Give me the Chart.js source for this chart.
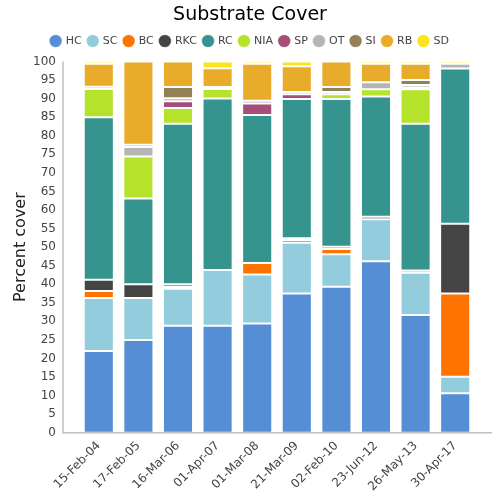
<!DOCTYPE html>
<html>
<head>
<meta charset="utf-8">
<script src="https://cdn.jsdelivr.net/npm/chart.js@4/dist/chart.umd.min.js"></script>
<style>
html,body{margin:0;padding:0;background:#fff;}
#wrap{width:500px;height:500px;position:relative;}
</style>
</head>
<body>
<div id="wrap"><canvas id="c" width="500" height="500"></canvas></div>
<script>
const categories = ["15-Feb-04","17-Feb-05","16-Mar-06","01-Apr-07","01-Mar-08","21-Mar-09","02-Feb-10","23-Jun-12","26-May-13","30-Apr-17"];
const seriesNames = ["HC","SC","BC","RKC","RC","NIA","SP","OT","SI","RB","SD"];
const HC  = [22.0, 25.0, 28.8, 28.8, 29.4, 37.5, 39.3, 46.2, 31.7, 10.6];
const SC  = [14.3, 11.3, 10.0, 15.0, 13.2, 13.7,  8.8, 11.3, 11.4,  4.5];
const BC  = [ 1.9,  0,    0.5,  0,    3.1,  0.7,  1.4,  0,    0.6, 22.4];
const RKC = [ 3.0,  3.7,  0.7,  0,    0,    0.5,  0.6,  0.7,  0,   18.8];
const RC  = [43.8, 23.1, 43.2, 46.2, 39.9, 37.5, 39.8, 32.4, 39.5, 41.8];
const NIA = [ 7.6, 11.3,  4.3,  2.6,  0,    0,    1.3,  1.9,  9.3,  0];
const SP  = [ 0,    0,    1.8,  0,    3.1,  1.3,  0,    0,    0.5,  0];
const OT  = [ 0.6,  2.6,  0.8,  0.5,  0.7,  0.6,  0.6,  1.9,  0.7,  1.3];
const SI  = [ 0,    0.6,  3.0,  0,    0,    0,    1.3,  0,    1.3,  0];
const RB  = [ 6.2, 22.4,  6.9,  5.1, 10.0,  6.9,  6.9,  5.0,  4.4,  0];
const SD  = [ 0.6,  0,    0,    1.8,  0.6,  1.3,  0,    0.6,  0.6,  0.6];
const yTicks = [0,5,10,15,20,25,30,35,40,45,50,55,60,65,70,75,80,85,90,95,100];

const seriesData = [HC,SC,BC,RKC,RC,NIA,SP,OT,SI,RB,SD];
const colors = ["#558ed5","#93cddd","#ff7400","#444444","#35958e","#b5e22b","#a54e79","#b5b5b5","#938054","#e8ac2a","#ffe31a"];

const datasets = seriesNames.map((n,i)=>({
  label:n,
  data: seriesData[i].map(v => v === 0 ? null : v),
  backgroundColor: colors[i],
  borderColor: 'rgba(255,255,255,0.35)',
  borderWidth: 1,
  borderSkipped: false,
  categoryPercentage: 0.76,
  barPercentage: 1.0
}));

const axisLines = {
  id:'axisLines',
  afterDraw(chart){
    const ctx = chart.ctx, a = chart.chartArea;
    ctx.save();
    ctx.strokeStyle = '#c0c0c0';
    ctx.lineWidth = 1.5;
    ctx.beginPath();
    ctx.moveTo(a.left-16, a.top);
    ctx.lineTo(a.left-16, a.bottom);
    ctx.lineTo(a.right+17, a.bottom);
    ctx.stroke();
    ctx.restore();
  }
};

Chart.defaults.font.family = "'DejaVu Sans', sans-serif";
Chart.defaults.color = '#444';

new Chart(document.getElementById('c'), {
  type:'bar',
  data:{labels:categories, datasets},
  options:{
    responsive:false,
    animation:false,
    layout:{padding:{left:0,right:0,top:0,bottom:0}},
    plugins:{
      title:{display:true,text:'Substrate Cover',color:'#000',font:{size:19,weight:'normal'},padding:{top:4,bottom:2}},
      legend:{display:true,labels:{usePointStyle:true,pointStyle:'circle',boxWidth:9,boxHeight:9,padding:6.7,font:{size:11},color:'#444'}},
      tooltip:{enabled:false}
    },
    scales:{
      x:{
        stacked:true,
        grid:{display:false,drawTicks:false},
        border:{display:false},
        ticks:{maxRotation:45,minRotation:45,font:{size:12},color:'#444',padding:6}
      },
      xTop:{
        type:'category',
        position:'top',
        display:true,
        grid:{display:false,drawTicks:false},
        border:{display:false},
        ticks:{display:false},
        afterFit: s => { s.height = 5; }
      },
      y:{
        stacked:true,
        min:0,max:100,
        grid:{display:false,drawTicks:false},
        border:{display:false},
        afterBuildTicks: s => { s.ticks = yTicks.map(v=>({value:v})); },
        afterFit: s => { s.width = 79; },
        ticks:{font:{size:12},color:'#444',padding:23},
        title:{display:true,text:'Percent cover',font:{size:16},color:'#222',padding:{top:11,bottom:0}}
      },
      yRight:{
        type:'linear',
        position:'right',
        display:true,
        grid:{display:false,drawTicks:false},
        border:{display:false},
        ticks:{display:false},
        afterFit: s => { s.width = 25; }
      }
    }
  },
  plugins:[axisLines]
});
</script>
</body>
</html>
